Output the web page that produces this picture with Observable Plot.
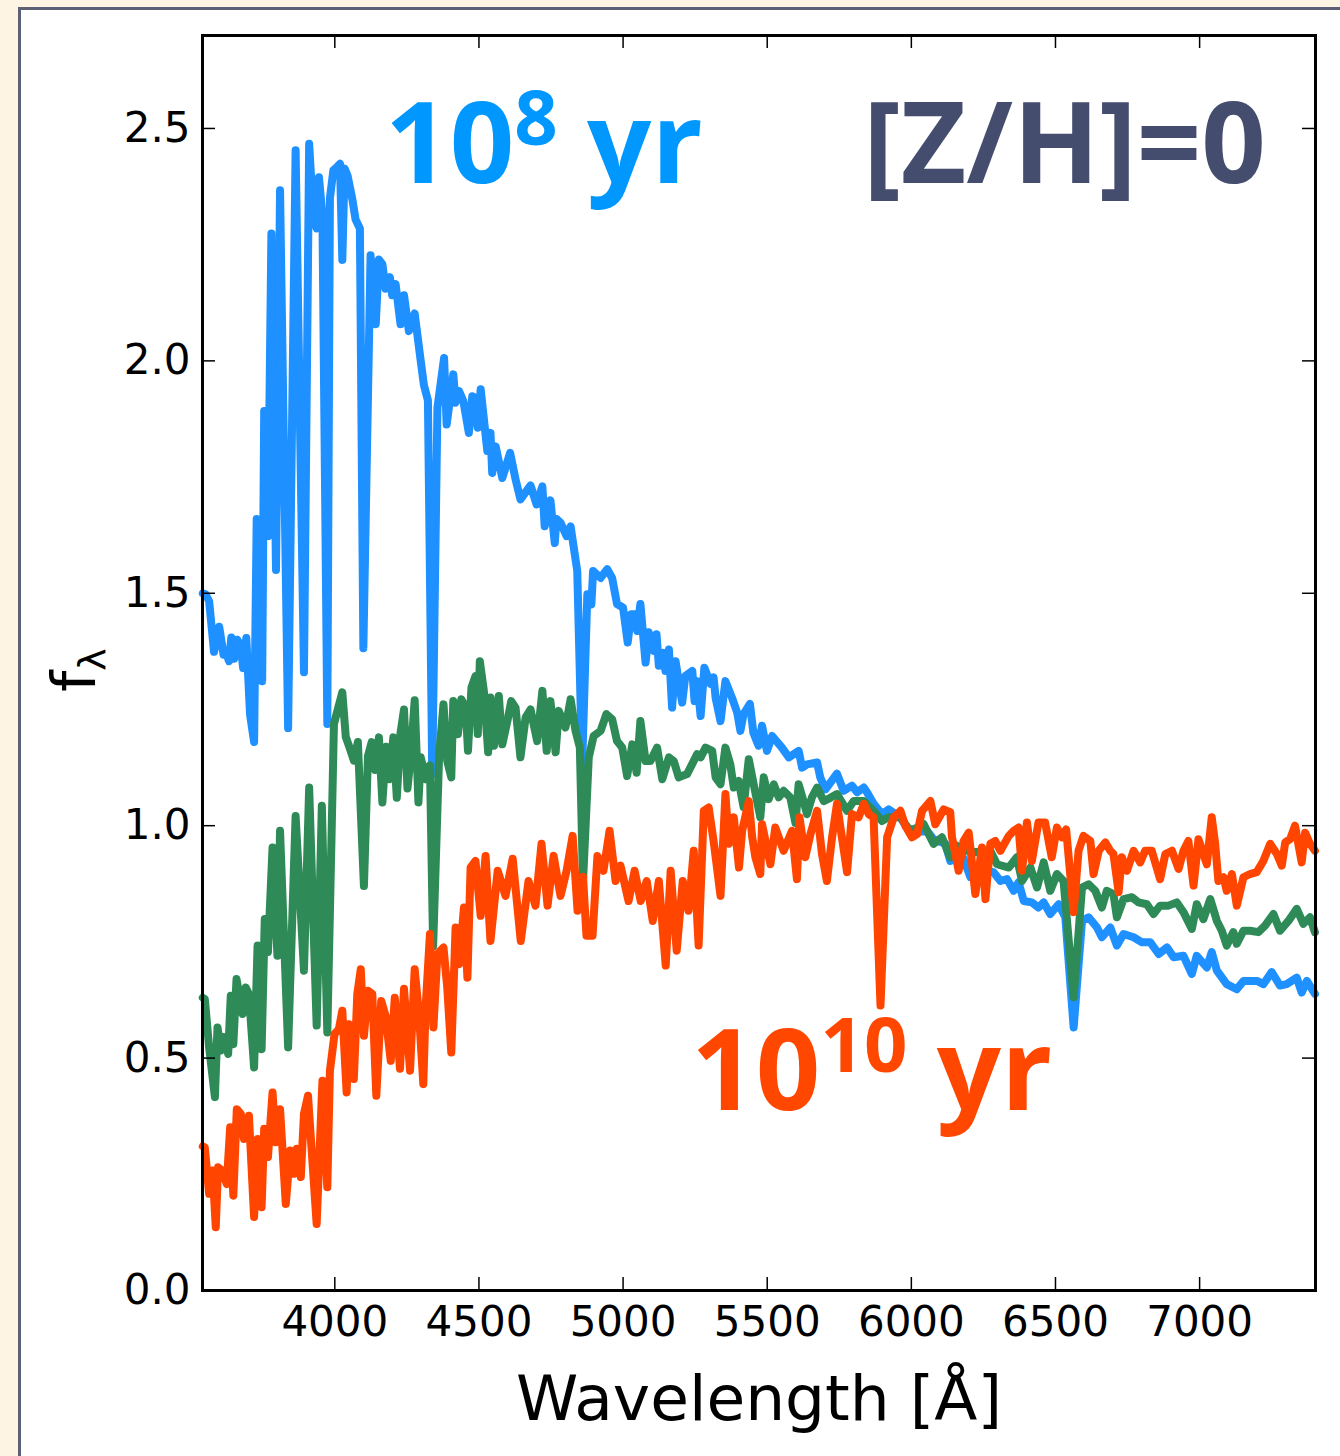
<!DOCTYPE html>
<html>
<head>
<meta charset="utf-8">
<script src="https://cdn.jsdelivr.net/npm/d3@7"></script>
<script src="https://cdn.jsdelivr.net/npm/@observablehq/plot@0.6"></script>
<style>
  body { margin: 0; }
  #page { position: relative; width: 1340px; height: 1456px; background: #fdf4e3; overflow: hidden; }
  #panel { position: absolute; left: 18px; top: 7px; width: 1400px; height: 1500px; background: #ffffff; border-left: 3px solid #5d5f77; border-top: 3px solid #5d5f77; }
  #chart { position: absolute; left: 0; top: 0; }
</style>
</head>
<body>
<div id="page">
  <div id="panel"></div>
  <div id="chart"></div>
</div>
<script>
// ---- Data ----
const wave08 = [3542,3552,3564,3581,3599,3614,3622,3633,3641,3651,3662,3674,3682,3693,3706,3720,3729,3741,3748,3755,3768,3780,3796,3810,3838,3864,3893,3911,3926,3937,3945,3957,3974,3983,3995,4009,4018,4026,4034,4044,4061,4072,4087,4099,4124,4142,4153,4165,4176,4191,4199,4211,4228,4240,4257,4277,4298,4309,4323,4338,4356,4379,4388,4411,4419,4431,4446,4465,4477,4488,4496,4506,4529,4540,4546,4558,4581,4608,4627,4644,4679,4700,4720,4728,4748,4763,4769,4783,4804,4818,4841,4858,4876,4890,4896,4922,4945,4962,4979,5000,5016,5028,5043,5049,5060,5078,5089,5107,5116,5124,5139,5147,5159,5170,5182,5205,5216,5240,5248,5257,5269,5282,5303,5314,5321,5338,5355,5378,5396,5407,5418,5440,5452,5470,5482,5499,5517,5551,5575,5609,5621,5638,5673,5684,5702,5742,5765,5794,5812,5835,5846,5869,5898,5921,5962,5985,6020,6054,6077,6118,6135,6158,6180,6205,6220,6251,6285,6309,6332,6355,6372,6390,6418,6441,6459,6482,6511,6534,6563,6592,6615,6644,6661,6690,6713,6736,6771,6800,6829,6858,6887,6910,6944,6973,6990,7025,7042,7060,7094,7129,7152,7199,7221,7250,7279,7302,7337,7354,7372,7400];
const flux08 = [1.50,1.498,1.483,1.374,1.428,1.368,1.374,1.354,1.405,1.359,1.40,1.386,1.339,1.404,1.239,1.18,1.66,1.655,1.311,1.892,1.623,2.274,1.55,2.367,1.21,2.453,1.33,2.467,2.304,2.285,2.395,2.313,1.219,2.35,2.41,2.418,2.424,2.217,2.414,2.399,2.347,2.304,2.285,1.382,2.227,2.079,2.218,2.208,2.155,2.18,2.141,2.165,2.079,2.141,2.064,2.102,2.00,1.948,1.915,1.11,1.899,2.006,1.863,1.971,1.91,1.935,1.913,1.845,1.924,1.92,1.856,1.939,1.806,1.845,1.759,1.816,1.748,1.802,1.745,1.702,1.732,1.691,1.73,1.644,1.70,1.608,1.66,1.652,1.623,1.644,1.548,1.13,1.498,1.476,1.548,1.533,1.552,1.533,1.477,1.469,1.394,1.455,1.455,1.419,1.477,1.351,1.416,1.376,1.412,1.344,1.372,1.333,1.379,1.254,1.354,1.265,1.322,1.333,1.268,1.311,1.236,1.34,1.305,1.319,1.275,1.225,1.311,1.275,1.243,1.204,1.24,1.262,1.20,1.172,1.215,1.161,1.193,1.168,1.147,1.161,1.125,1.132,1.136,1.104,1.078,1.112,1.075,1.086,1.072,1.082,1.072,1.047,1.025,1.035,1.018,0.996,0.986,0.989,0.971,0.961,0.924,0.932,0.931,0.889,0.89,0.903,0.90,0.881,0.885,0.86,0.878,0.838,0.835,0.824,0.835,0.81,0.831,0.803,0.566,0.795,0.803,0.781,0.76,0.781,0.742,0.767,0.76,0.749,0.749,0.724,0.738,0.717,0.72,0.681,0.72,0.695,0.728,0.688,0.659,0.648,0.666,0.666,0.659,0.685,0.656,0.659,0.673,0.641,0.666,0.638];

const wave09 = [3542,3549,3564,3584,3593,3604,3616,3630,3639,3648,3659,3680,3691,3702,3720,3732,3746,3757,3768,3784,3801,3810,3838,3864,3893,3911,3937,3955,3974,3997,4026,4038,4050,4066,4080,4101,4115,4128,4140,4153,4165,4178,4190,4203,4215,4228,4240,4252,4265,4277,4290,4298,4316,4330,4341,4362,4377,4390,4404,4411,4427,4439,4454,4462,4474,4488,4496,4503,4517,4532,4540,4552,4569,4581,4600,4612,4627,4644,4662,4679,4702,4720,4735,4748,4766,4777,4800,4818,4835,4850,4861,4881,4898,4922,4942,4962,4979,4997,5014,5032,5047,5060,5078,5095,5118,5136,5159,5176,5193,5222,5240,5257,5269,5286,5309,5321,5338,5355,5372,5384,5401,5418,5436,5453,5476,5488,5505,5523,5540,5557,5580,5598,5609,5626,5638,5655,5673,5696,5719,5742,5777,5800,5835,5869,5898,5921,5962,5996,6020,6043,6077,6106,6135,6147,6181,6205,6222,6262,6274,6297,6338,6366,6384,6413,6436,6459,6482,6505,6528,6563,6592,6615,6638,6661,6678,6701,6713,6736,6765,6788,6817,6840,6863,6892,6921,6944,6973,6990,7013,7037,7060,7077,7094,7117,7129,7152,7175,7204,7227,7256,7279,7308,7337,7360,7383,7400];
const flux09 = [0.63,0.627,0.523,0.416,0.566,0.516,0.545,0.509,0.634,0.53,0.67,0.595,0.652,0.638,0.48,0.742,0.519,0.799,0.728,0.953,0.72,0.989,0.523,1.021,0.688,1.082,0.57,1.043,0.555,1.219,1.287,1.191,1.17,1.14,1.18,0.87,1.15,1.18,1.12,1.19,1.05,1.17,1.10,1.19,1.06,1.20,1.25,1.08,1.16,1.27,1.05,1.147,1.10,1.13,0.74,1.153,1.261,1.139,1.104,1.268,1.197,1.272,1.254,1.161,1.297,1.322,1.197,1.354,1.29,1.158,1.276,1.172,1.279,1.175,1.229,1.268,1.254,1.147,1.233,1.25,1.182,1.29,1.161,1.268,1.158,1.247,1.211,1.272,1.204,1.168,0.88,1.147,1.193,1.204,1.24,1.229,1.182,1.168,1.107,1.175,1.114,1.225,1.139,1.139,1.168,1.10,1.147,1.139,1.104,1.111,1.133,1.154,1.147,1.168,1.161,1.104,1.089,1.168,1.132,1.082,1.096,1.04,1.143,1.089,1.018,1.104,1.057,1.089,1.061,1.075,1.061,1.006,1.089,1.053,1.025,1.061,1.082,1.053,1.06,1.068,1.032,1.053,1.053,1.032,1.01,1.018,1.018,0.989,0.996,1.003,0.961,0.975,0.932,0.961,0.946,0.946,0.943,0.946,0.946,0.917,0.91,0.932,0.881,0.91,0.867,0.921,0.86,0.896,0.881,0.631,0.867,0.874,0.86,0.824,0.86,0.853,0.803,0.842,0.846,0.835,0.831,0.81,0.828,0.828,0.835,0.814,0.778,0.831,0.799,0.842,0.795,0.774,0.742,0.771,0.746,0.774,0.774,0.771,0.785,0.81,0.774,0.795,0.821,0.789,0.803,0.771];

const wave10 = [3542,3549,3564,3576,3587,3595,3610,3625,3637,3648,3660,3674,3685,3702,3720,3732,3746,3755,3768,3784,3795,3810,3830,3845,3859,3868,3882,3893,3907,3937,3957,3974,3983,3999,4014,4026,4041,4049,4066,4078,4090,4101,4115,4130,4144,4161,4176,4194,4208,4226,4240,4261,4277,4292,4307,4315,4330,4342,4356,4377,4390,4404,4419,4431,4448,4460,4471,4488,4506,4523,4540,4565,4592,4617,4645,4672,4696,4717,4738,4759,4783,4804,4825,4842,4861,4873,4894,4911,4932,4953,4974,4991,5019,5040,5061,5082,5103,5124,5148,5165,5186,5207,5227,5245,5262,5280,5297,5314,5338,5355,5367,5384,5402,5413,5436,5448,5459,5476,5482,5511,5528,5557,5586,5603,5612,5632,5650,5673,5690,5707,5725,5742,5754,5777,5794,5817,5835,5852,5869,5893,5916,5939,5962,5979,6002,6020,6037,6066,6083,6112,6135,6141,6164,6181,6199,6222,6245,6257,6274,6291,6309,6338,6355,6372,6384,6401,6418,6441,6464,6487,6505,6522,6537,6563,6580,6597,6621,6632,6650,6673,6690,6701,6719,6730,6748,6771,6794,6811,6834,6863,6881,6904,6927,6944,6961,6979,6996,7025,7042,7054,7065,7083,7094,7112,7129,7152,7175,7198,7221,7245,7268,7285,7297,7314,7331,7354,7366,7383,7400];
const flux10 = [0.31,0.308,0.208,0.258,0.136,0.265,0.258,0.229,0.351,0.204,0.39,0.38,0.326,0.376,0.158,0.326,0.179,0.348,0.287,0.426,0.319,0.39,0.186,0.301,0.251,0.305,0.244,0.38,0.419,0.143,0.451,0.222,0.473,0.552,0.562,0.602,0.426,0.573,0.455,0.638,0.691,0.548,0.645,0.638,0.419,0.623,0.591,0.494,0.63,0.477,0.649,0.473,0.691,0.595,0.444,0.609,0.767,0.566,0.724,0.738,0.652,0.512,0.781,0.702,0.824,0.673,0.91,0.924,0.806,0.935,0.752,0.903,0.849,0.929,0.752,0.881,0.828,0.961,0.828,0.935,0.849,0.903,0.978,0.817,0.89,0.763,0.763,0.935,0.903,0.989,0.881,0.914,0.838,0.903,0.838,0.881,0.795,0.881,0.699,0.903,0.731,0.881,0.817,0.946,0.742,1.032,1.039,0.967,0.849,1.068,0.961,1.018,0.91,0.989,1.053,0.975,0.932,0.896,1.003,0.917,0.996,0.946,0.989,0.885,1.018,0.932,0.982,1.032,0.939,0.881,0.975,1.047,0.996,0.90,1.025,1.018,1.047,1.025,1.018,0.613,0.975,1.018,1.032,1.0,0.975,0.982,1.032,1.053,1.003,1.035,1.029,0.975,0.903,0.967,0.985,0.853,0.953,0.842,0.961,0.967,0.946,0.978,0.989,0.996,0.903,1.007,0.924,1.007,1.007,0.932,0.996,0.975,0.992,0.814,0.946,0.978,0.967,0.896,0.946,0.964,0.946,0.939,0.857,0.932,0.903,0.946,0.921,0.946,0.946,0.885,0.939,0.946,0.907,0.946,0.967,0.871,0.971,0.917,1.018,0.961,0.881,0.889,0.86,0.896,0.828,0.889,0.896,0.90,0.924,0.961,0.939,0.914,0.964,0.971,1.0,0.921,0.985,0.961,0.946];

const xTicks = [4000, 4500, 5000, 5500, 6000, 6500, 7000];
const yTicks = [0, 0.5, 1.0, 1.5, 2.0, 2.5];
const xDomain = [3541, 7402];
const yDomain = [0, 2.7];

const colors = {age8: "#1e90ff", age9: "#2e8b57", age10: "#ff4500"};

// annotations: text parts, anchor wavelength, anchor flux
const annotations = [
  {base: "10", sup: "8", tail: " yr", wl: 4176, fl: 2.382, color: "#0098ff", anchor: "start"},
  {base: "[Z/H]=0", sup: "", tail: "", wl: 7232, fl: 2.382, color: "#454d6f", anchor: "end"},
  {base: "10", sup: "10", tail: " yr", wl: 5238, fl: 0.387, color: "#ff4700", anchor: "start"}
];

// ---- Build tables ----
const toRows = (w, f) => w.map((d, i) => ({wl: d, flux: f[i]}));
const s08 = toRows(wave08, flux08);
const s09 = toRows(wave09, flux09);
const s10 = toRows(wave10, flux10);

const W = 1340, H = 1456;
const mL = 202, mR = 25, mT = 35, mB = 166;
const frameW = W - mL - mR, frameH = H - mT - mB;
const tickLen = 13;
const font = "DejaVu Sans";
const lw = 8;

const plot = Plot.plot({
  width: W, height: H,
  marginLeft: mL, marginRight: mR, marginTop: mT, marginBottom: mB,
  x: {domain: xDomain},
  y: {domain: yDomain},
  style: {background: "transparent", fontFamily: font, fontSize: "42px", color: "black", overflow: "visible"},
  marks: [
    Plot.line(s08, {x: "wl", y: "flux", stroke: colors.age8, strokeWidth: lw, strokeLinejoin: "round", strokeLinecap: "round"}),
    Plot.line(s09, {x: "wl", y: "flux", stroke: colors.age9, strokeWidth: lw, strokeLinejoin: "round", strokeLinecap: "round"}),
    Plot.line(s10, {x: "wl", y: "flux", stroke: colors.age10, strokeWidth: lw, strokeLinejoin: "round", strokeLinecap: "round"}),
    // inward ticks on all four sides
    Plot.tickX(xTicks, {x: d => d, stroke: "black", strokeWidth: 1.5, insetTop: frameH - tickLen}),
    Plot.tickX(xTicks, {x: d => d, stroke: "black", strokeWidth: 1.5, insetBottom: frameH - tickLen}),
    Plot.tickY(yTicks, {y: d => d, stroke: "black", strokeWidth: 1.5, insetRight: frameW - tickLen}),
    Plot.tickY(yTicks, {y: d => d, stroke: "black", strokeWidth: 1.5, insetLeft: frameW - tickLen}),
    Plot.axisX(xTicks, {tickSize: 0, tickPadding: 16, tickFormat: d => String(d), fontSize: 42, fontFamily: font, label: null}),
    Plot.axisY(yTicks, {tickSize: 0, tickPadding: 12, tickFormat: d3.format(".1f"), fontSize: 42, fontFamily: font, label: null}),
    Plot.text(["Wavelength [Å]"], {frameAnchor: "bottom", dy: 129, fontSize: 63, fontFamily: font, fill: "black"}),
    Plot.frame({stroke: "black", strokeWidth: 3})
  ]
});

document.getElementById("chart").appendChild(plot);

// ---- text with sub/superscripts ----
const svg = d3.select(plot);
const xs = plot.scale("x"), ys = plot.scale("y");

// y-axis label f_lambda
const ylab = svg.append("text")
  .attr("transform", `translate(95, 670) rotate(-90)`)
  .attr("text-anchor", "middle")
  .attr("font-family", font)
  .attr("font-size", 60)
  .attr("fill", "black");
ylab.append("tspan").text("f");
ylab.append("tspan").attr("font-size", 38).attr("dy", 10).text("λ");

for (const a of annotations) {
  const t = svg.append("text")
    .attr("x", xs.apply(a.wl))
    .attr("y", ys.apply(a.fl))
    .attr("text-anchor", a.anchor)
    .attr("font-family", "Open Sans")
    .attr("font-weight", 700)
    .attr("font-size", 113)
    .attr("fill", a.color);
  t.append("tspan").text(a.base);
  if (a.sup) {
    t.append("tspan").attr("font-size", 76).attr("dy", -38).text(a.sup);
    t.append("tspan").attr("dy", 38).text(a.tail);
  }
}
</script>
</body>
</html>
